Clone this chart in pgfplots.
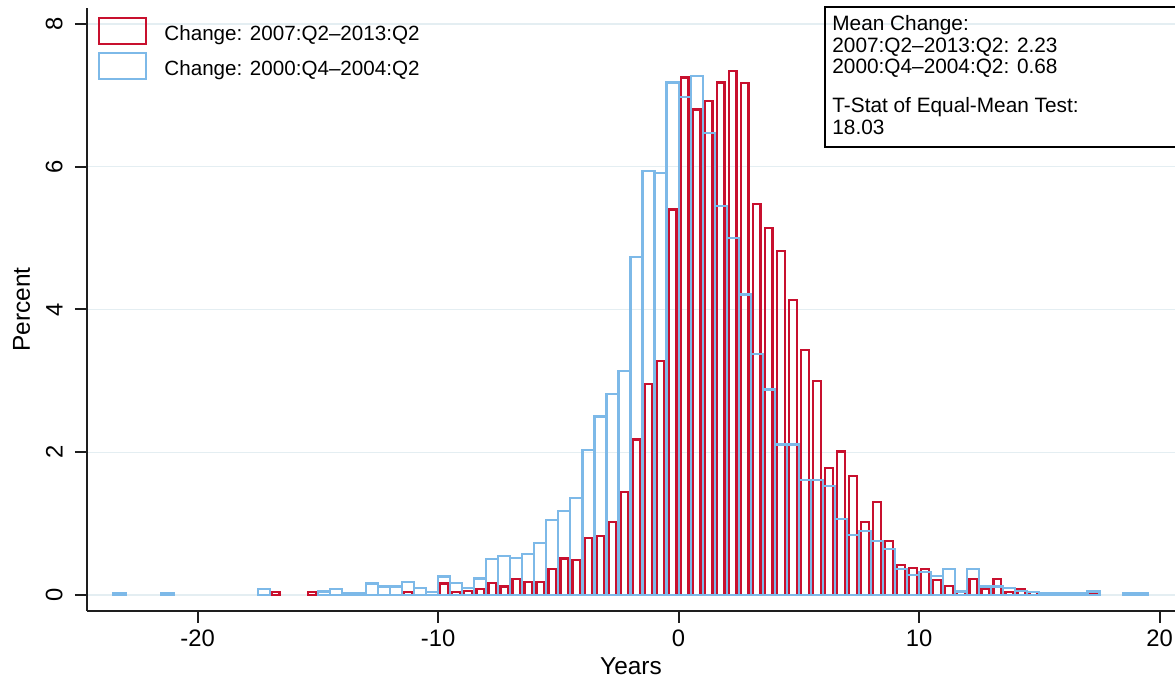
\documentclass[border=0pt]{standalone}
\usepackage{pgfplots}
\pgfplotsset{compat=1.18}
\usepackage{pgfplotstable}
\usepackage{fontspec}
\setmainfont{Liberation Sans}

\definecolor{redbar}{RGB}{200,16,46}
\definecolor{bluebar}{RGB}{125,185,232}
\definecolor{gridc}{RGB}{228,238,242}
\definecolor{axc}{RGB}{30,30,30}

\pgfplotsset{boxlegend/.style={legend image code/.code={\draw[##1,/tikz/.cd] (0pt,-4.9pt) rectangle (23.5pt,8.1pt);}}}

% bin centres (bins of 0.5 years) and percent
\pgfplotstableread{
x y
-16.75 0.04
-15.25 0.04
-11.25 0.04
-9.75 0.16
-9.25 0.04
-8.75 0.06
-8.25 0.08
-7.75 0.17
-7.25 0.12
-6.75 0.22
-6.25 0.18
-5.75 0.18
-5.25 0.36
-4.75 0.51
-4.25 0.49
-3.75 0.80
-3.25 0.83
-2.75 1.02
-2.25 1.44
-1.75 2.18
-1.25 2.96
-0.75 3.28
-0.25 5.40
0.25 7.25
0.75 6.80
1.25 6.92
1.75 7.18
2.25 7.34
2.75 7.17
3.25 5.48
3.75 5.14
4.25 4.82
4.75 4.13
5.25 3.43
5.75 3.00
6.25 1.78
6.75 2.01
7.25 1.67
7.75 1.02
8.25 1.30
8.75 0.76
9.25 0.42
9.75 0.38
10.25 0.36
10.75 0.21
11.25 0.13
11.75 0.04
12.25 0.22
12.75 0.08
13.25 0.22
13.75 0.04
14.25 0.08
14.75 0.04
15.25 0.03
15.75 0.03
16.25 0.02
16.75 0.02
17.25 0.03
}\recent

\pgfplotstableread{
x y
-23.25 0.03
-21.25 0.03
-17.25 0.08
-14.75 0.05
-14.25 0.08
-13.75 0.03
-13.25 0.03
-12.75 0.16
-12.25 0.12
-11.75 0.12
-11.25 0.18
-10.75 0.10
-10.25 0.04
-9.75 0.26
-9.25 0.17
-8.75 0.10
-8.25 0.23
-7.75 0.50
-7.25 0.55
-6.75 0.52
-6.25 0.58
-5.75 0.73
-5.25 1.05
-4.75 1.18
-4.25 1.36
-3.75 2.03
-3.25 2.50
-2.75 2.82
-2.25 3.14
-1.75 4.73
-1.25 5.94
-0.75 5.91
-0.25 7.18
0.25 6.98
0.75 7.27
1.25 6.47
1.75 5.45
2.25 5.00
2.75 4.21
3.25 3.38
3.75 2.88
4.25 2.11
4.75 2.11
5.25 1.61
5.75 1.61
6.25 1.53
6.75 1.06
7.25 0.84
7.75 0.90
8.25 0.76
8.75 0.65
9.25 0.36
9.75 0.28
10.25 0.32
10.75 0.27
11.25 0.37
11.75 0.05
12.25 0.36
12.75 0.12
13.25 0.12
13.75 0.10
14.25 0.06
14.75 0.04
15.25 0.03
15.75 0.03
16.25 0.02
16.75 0.02
17.25 0.05
18.75 0.03
19.25 0.03
}\early

\begin{document}
\begin{tikzpicture}
\useasboundingbox (-43.5pt,-35pt) rectangle (544pt,305.5pt);
\begin{axis}[
    at={(0pt,0pt)}, anchor=south west,
    scale only axis, width=544pt, height=301.35pt,
    xmin=-24.6, xmax=20.64, ymin=-0.224, ymax=8.22,
    axis x line*=bottom, axis y line*=left,
    axis line style={axc, line width=1pt},
    tick style={axc, line width=1pt},
    tick align=outside, major tick length=6pt,
    xtick={-20,-10,0,10,20},
    xticklabels={-20,-10,0,10,20},
    ytick={0,2,4,6,8},
    yticklabels={0,2,4,6,8},
    xticklabel style={font=\fontsize{11.9}{14}\selectfont, anchor=north, inner sep=0pt, yshift=-3pt},
    yticklabel style={font=\fontsize{11.9}{14}\selectfont, xshift=-6pt, rotate=90, anchor=south, inner sep=0pt},
    ymajorgrids, major grid style={gridc, line width=0.7pt},
    xlabel={Years}, ylabel={Percent},
    xlabel style={font=\fontsize{12.2}{14}\selectfont, at={([yshift=-31.5pt]axis description cs:0.5,0)}, anchor=base},
    ylabel style={font=\fontsize{12.2}{14}\selectfont, at={([xshift=-28.5pt]axis description cs:0,0.5)}, anchor=base},
    legend style={draw=none, fill=none, at={(axis description cs:0,1)}, anchor=north west,
        xshift=5.4pt, yshift=-4.25pt, inner sep=0pt, column sep=6.5pt, row sep=2.2pt,
        font=\fontsize{10.3}{12}\selectfont},
    legend cell align=left,
]
\addplot[ybar, bar width=0.32, bar shift=0pt, draw=redbar, fill=none, line width=1.15pt, boxlegend]
    table[x=x, y=y] {\recent};
\addlegendentry{Change: 2007:Q2--2013:Q2}
\addplot[ybar, bar width=0.5, bar shift=0pt, draw=bluebar, fill=none, line width=1.1pt, boxlegend]
    table[x=x, y=y] {\early};
\addlegendentry{Change: 2000:Q4--2004:Q2}
\end{axis}
\draw[black, line width=0.8pt] (369pt,302pt) rectangle (547pt,232pt);
\begin{scope}[every node/.style={anchor=base west, inner sep=0pt, font=\fontsize{10.4}{12}\selectfont}]
\node at (372.5pt,290pt) {Mean Change:};
\node at (372.5pt,279pt) {2007:Q2--2013:Q2: 2.23};
\node at (372.5pt,268.5pt) {2000:Q4--2004:Q2: 0.68};
\node at (372.5pt,249pt) {T-Stat of Equal-Mean Test:};
\node at (372.5pt,238pt) {18.03};
\end{scope}
\end{tikzpicture}
\end{document}
